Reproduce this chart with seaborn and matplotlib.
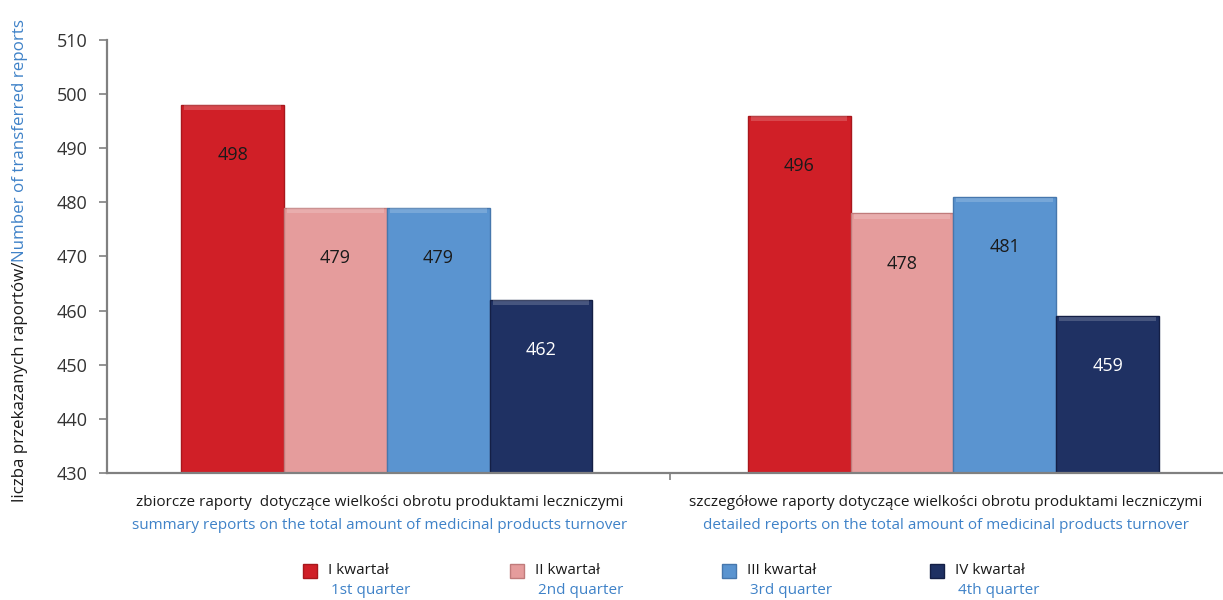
import matplotlib
matplotlib.use("Agg")
import matplotlib.pyplot as plt
import seaborn as sns
import pandas as pd
import numpy as np
from matplotlib.patches import Rectangle

# ---- data ----
categories_pl = ["zbiorcze raporty  dotyczące wielkości obrotu produktami leczniczymi",
                 "szczegółowe raporty dotyczące wielkości obrotu produktami leczniczymi"]
categories_en = ["summary reports on the total amount of medicinal products turnover",
                 "detailed reports on the total amount of medicinal products turnover"]
quarters_pl = ["I kwartał", "II kwartał", "III kwartał", "IV kwartał"]
quarters_en = ["1st quarter", "2nd quarter", "3rd quarter", "4th quarter"]
summary_values = [498, 479, 479, 462]
detailed_values = [496, 478, 481, 459]
yticks = [430, 440, 450, 460, 470, 480, 490, 500, 510]

colors = ["#D01F27", "#E59C9C", "#5A94D0", "#1F3163"]
edge_colors = ["#A8171C", "#C07B7B", "#4677AD", "#141F45"]
label_colors = ["#1a1a1a", "#1a1a1a", "#1a1a1a", "#FFFFFF"]
BLUE = "#3F82C8"
DARK = "#1a1a1a"

sns.set_theme(style="white")
plt.rcParams['font.family'] = ['Open Sans', 'DejaVu Sans']

rows = []
for cat, vals in zip(["summary", "detailed"], [summary_values, detailed_values]):
    for q, v in zip(quarters_pl, vals):
        rows.append({"category": cat, "quarter": q, "value": v})
df = pd.DataFrame(rows)

fig = plt.figure(figsize=(12.23, 6.0), dpi=100)
W, H = 1223, 600
ax = fig.add_axes([107 / W, 1 - 473 / H, 1133 / W, 433 / H])

sns.barplot(data=df, x="category", y="value", hue="quarter",
            hue_order=quarters_pl, palette=colors, width=0.726, dodge=True,
            errorbar=None, ax=ax, legend=False, gap=0.0, saturation=1.0)

ax.set_ylim(430, 510)
ax.set_xlim(-0.494, 1.506)
ax.set_yticks(yticks)
ax.set_yticklabels([str(t) for t in yticks], fontsize=13, color="#333333")
ax.set_xticks([0.5])
ax.set_xticklabels([])
ax.tick_params(axis="y", left=True, length=6, width=1.2, color="#808080", pad=8)
ax.tick_params(axis="x", bottom=True, length=5, width=1.2, color="#808080")
ax.set_xlabel("")
ax.set_ylabel("")
for s in ["top", "right"]:
    ax.spines[s].set_visible(False)
for s in ["left", "bottom"]:
    ax.spines[s].set_color("#808080")
    ax.spines[s].set_linewidth(1.6)
ax.grid(False)

# style bars and add labels
for i, cont in enumerate(ax.containers):
    for bar in cont:
        bar.set_edgecolor(edge_colors[i])
        bar.set_linewidth(1.0)
        x = bar.get_x()
        w = bar.get_width()
        top = bar.get_y() + bar.get_height()
        # top bevel highlight
        ax.add_patch(Rectangle((x + w * 0.03, top - 1.0), w * 0.94, 0.9,
                               facecolor="white", alpha=0.18, linewidth=0, zorder=3))
        ax.text(x + w / 2, top - 9.3, f"{int(round(top))}", ha="center", va="center",
                fontsize=13, color=label_colors[i], zorder=4)

# category labels (two-line, two colours)
for j, (pl, en) in enumerate(zip(categories_pl, categories_en)):
    ax.text(j - 0.013, -0.068, pl, transform=ax.get_xaxis_transform(), ha="center", va="center",
            fontsize=11, color=DARK)
    ax.text(j - 0.013, -0.121, en, transform=ax.get_xaxis_transform(), ha="center", va="center",
            fontsize=11, color=BLUE)

# y label in two colours, rotated
fig.canvas.draw()
renderer = fig.canvas.get_renderer()
t1 = fig.text(20 / W, 1 - 502 / H, "liczba przekazanych raportów/", rotation=90,
              ha="center", va="bottom", fontsize=12.2, color=DARK)
bb = t1.get_window_extent(renderer=renderer)
t2 = fig.text(20 / W, bb.y1 / fig.bbox.height, "Number of transferred reports", rotation=90,
              ha="center", va="bottom", fontsize=12.2, color=BLUE)

# legend
leg_x = [303, 510, 722, 930]
for k in range(4):
    fx = leg_x[k] / W
    fig.patches.append(Rectangle((fx, 1 - 578 / H), 14 / W, 14 / H, transform=fig.transFigure,
                                 facecolor=colors[k], edgecolor=edge_colors[k], linewidth=1.0))
    fig.text((leg_x[k] + 25) / W, 1 - 570 / H, quarters_pl[k], ha="left", va="center",
             fontsize=11, color=DARK)
    fig.text((leg_x[k] + 28) / W, 1 - 590 / H, quarters_en[k], ha="left", va="center",
             fontsize=11, color=BLUE)

fig.savefig("out.png", dpi=100)
